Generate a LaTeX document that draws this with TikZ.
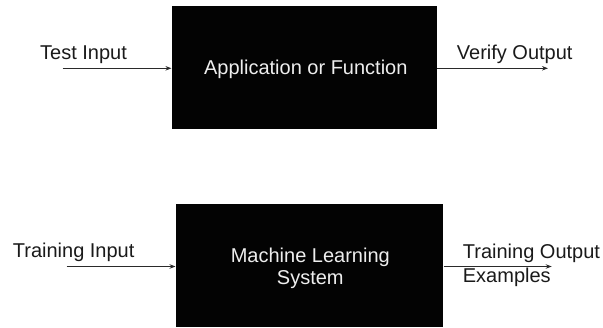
\documentclass[tikz,border=0pt]{standalone}
\usepackage{fontspec}
\setmainfont{Liberation Sans}
\usetikzlibrary{arrows.meta}

\definecolor{boxfill}{HTML}{030303}
\definecolor{boxink}{HTML}{EEEEEE}
\definecolor{wire}{HTML}{2A2A2A}
\definecolor{ink}{HTML}{1A1A1A}

\tikzset{
  blackbox/.style={draw=none, fill=boxfill, inner sep=0pt},
  boxtext/.style={text=boxink, inner sep=0pt, font=\fontsize{20}{22}\selectfont},
  lbl/.style={text=ink, inner sep=0pt, font=\fontsize{20}{24.4}\selectfont},
  arr/.style={draw=wire, line width=0.9pt, -{Stealth[length=6pt,width=4.5pt]}}
}

\begin{document}
\begin{tikzpicture}[x=1pt, y=-1pt]
  \useasboundingbox (0,0) rectangle (603,328);

  % upper block: conventional program
  \node[blackbox, minimum width=265.3pt, minimum height=123pt] (app) at (304.3,67.5) {};
  \node[boxtext, anchor=base] (apptext) at (305.8,75) {Application or Function};

  \node[lbl, anchor=base west] (testin) at (40,59.3) {Test Input};
  \node[lbl, anchor=base west] (verify) at (456.7,59.3) {Verify Output};

  \coordinate (tinstart) at (62.7,68.3);
  \coordinate (toutend) at (548,68.3);
  \draw[arr] (tinstart) -- (tinstart -| app.west);
  \draw[arr] (app.east |- toutend) -- (toutend);

  % lower block: learned system (multi-line nodes sit on their last baseline)
  \node[blackbox, minimum width=267.6pt, minimum height=123pt] (mls) at (309.5,265.5) {};
  \node[boxtext, anchor=base, align=center] (mlstext) at (310.3,284.3) {Machine Learning\\System};

  \node[lbl, anchor=base west] (trainin) at (12.7,258) {Training Input};
  \node[lbl, anchor=base west, align=left] (trainout) at (462.7,282.7) {Training Output\\Examples};

  \coordinate (binstart) at (66.7,266.5);
  \coordinate (boutend) at (551.7,266.5);
  \draw[arr] (binstart) -- (binstart -| mls.west);
  \draw[arr] (mls.east |- boutend) -- (boutend);
\end{tikzpicture}
\end{document}
